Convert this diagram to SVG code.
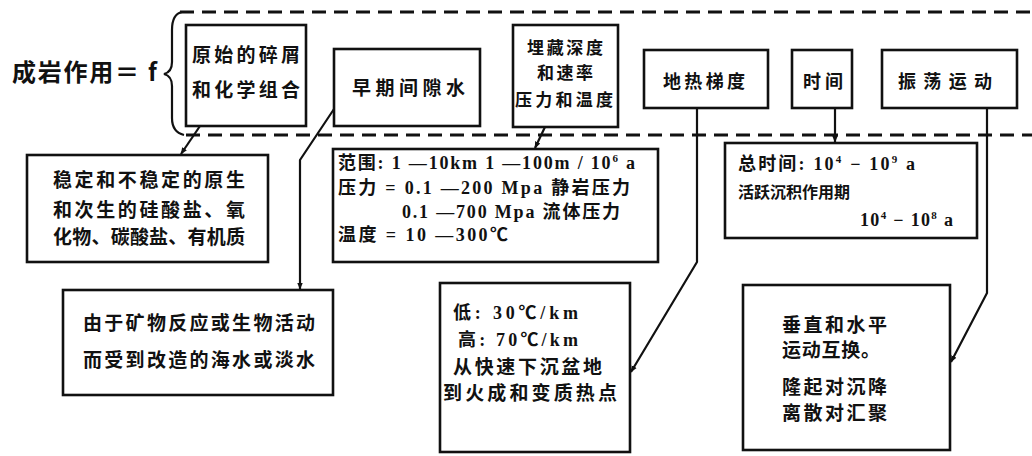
<svg xmlns="http://www.w3.org/2000/svg" width="1032" height="456" viewBox="0 0 1032 456">
<style>
.box{fill:#fff;stroke:#111;stroke-width:2.6}
.dash{fill:none;stroke:#111;stroke-width:3;stroke-dasharray:14 8}
.ln{fill:none;stroke:#111;stroke-width:2.2}
.t{font-family:"Noto Sans CJK SC","Noto Sans",sans-serif;font-weight:bold;fill:#111}
.s{font-family:"Liberation Serif","Noto Sans CJK SC",serif;font-weight:bold;fill:#111;font-size:18px}
</style>
<defs>
<marker id="ah" viewBox="0 0 10 10" refX="9" refY="5" markerWidth="7" markerHeight="7" orient="auto" markerUnits="userSpaceOnUse">
<path d="M0,1 L10,5 L0,9 z" fill="#111"/>
</marker>
</defs>
<rect width="1032" height="456" fill="#fff"/>
<g id="title">
<text class="t" x="12" y="81" font-size="24" textLength="145" lengthAdjust="spacing">成岩作用＝ f</text>
<path class="ln" d="M182,12 Q172,14 172,30 L172,62 Q172,72 164,74 Q172,76 172,86 L172,118 Q172,132 184,135"/>
</g>
<g id="dashes">
<line class="dash" x1="180" y1="12" x2="1032" y2="12"/>
<line class="dash" x1="186" y1="135" x2="1032" y2="135"/>
</g>
<g id="n1"><rect class="box" x="186" y="25" width="120" height="101"/>
<text class="t" x="192" y="62" font-size="19" textLength="108">原始的碎屑</text>
<text class="t" x="192" y="97" font-size="19" textLength="108">和化学组合</text></g>
<g id="n2"><rect class="box" x="334" y="49" width="146" height="77"/>
<text class="t" x="352" y="95" font-size="19" textLength="113">早期间隙水</text></g>
<g id="n3"><rect class="box" x="513" y="25" width="105" height="102"/>
<text class="t" x="527" y="54" font-size="17" textLength="76">埋藏深度</text>
<text class="t" x="537" y="79" font-size="17" textLength="56">和速率</text>
<text class="t" x="515" y="106" font-size="17" textLength="98">压力和温度</text></g>
<g id="n4"><rect class="box" x="644" y="50" width="124" height="58"/>
<text class="t" x="663" y="88" font-size="18" textLength="82">地热梯度</text></g>
<g id="n5"><rect class="box" x="792" y="50" width="60" height="58"/>
<text class="t" x="803" y="88" font-size="18" textLength="40">时间</text></g>
<g id="n6"><rect class="box" x="882" y="50" width="135" height="58"/>
<text class="t" x="898" y="88" font-size="18" textLength="94">振荡运动</text></g>
<g id="nA"><rect class="box" x="27" y="155" width="241" height="107"/>
<text class="t" x="53" y="187" font-size="19" textLength="192">稳定和不稳定的原生</text>
<text class="t" x="53" y="217" font-size="19" textLength="192">和次生的硅酸盐、氧</text>
<text class="t" x="53" y="244" font-size="19" textLength="192">化物、碳酸盐、有机质</text></g>
<g id="nB"><rect class="box" x="333" y="149" width="325" height="113"/>
<text class="s" x="338" y="169" textLength="297">范围: 1 —10km  1 —100m / 10<tspan font-size="11" dy="-7">6</tspan><tspan dy="7"> a</tspan></text>
<text class="s" x="338" y="194" textLength="292">压力 = 0.1 —200 Mpa 静岩压力</text>
<text class="s" x="402" y="218" textLength="218">0.1 —700 Mpa 流体压力</text>
<text class="s" x="338" y="241" textLength="170">温度 = 10  —300℃</text></g>
<g id="nC"><rect class="box" x="725" y="143" width="252" height="95"/>
<text class="s" x="738" y="170" textLength="177">总时间:  10<tspan font-size="11" dy="-7">4</tspan><tspan dy="7"> − 10</tspan><tspan font-size="11" dy="-7">9</tspan><tspan dy="7"> a</tspan></text>
<text class="t" x="738" y="198" font-size="16">活跃沉积作用期</text>
<text class="s" x="860" y="226" textLength="93">10<tspan font-size="11" dy="-7">4</tspan><tspan dy="7"> − 10</tspan><tspan font-size="11" dy="-7">8</tspan><tspan dy="7"> a</tspan></text></g>
<g id="nD"><rect class="box" x="63" y="290" width="270" height="105"/>
<text class="t" x="83" y="330" font-size="19" textLength="232">由于矿物反应或生物活动</text>
<text class="t" x="83" y="367" font-size="19" textLength="232">而受到改造的海水或淡水</text></g>
<g id="nE"><rect class="box" x="440" y="283" width="190" height="169"/>
<text class="s" x="453" y="319" font-size="19" textLength="125">低:  30℃/km</text>
<text class="s" x="458" y="346" font-size="19" textLength="120">高:  70℃/km</text>
<text class="t" x="453" y="374" font-size="19" textLength="149">从快速下沉盆地</text>
<text class="t" x="443" y="400" font-size="19" textLength="174">到火成和变质热点</text></g>
<g id="nF"><rect class="box" x="743" y="285" width="207" height="165"/>
<text class="t" x="782" y="332" font-size="19" textLength="105">垂直和水平</text>
<text class="t" x="782" y="357" font-size="19" textLength="98">运动互换。</text>
<text class="t" x="782" y="394" font-size="19" textLength="105">隆起对沉降</text>
<text class="t" x="782" y="420" font-size="19" textLength="105">离散对汇聚</text></g>
<g id="connectors">
<line class="ln" x1="200" y1="126" x2="181" y2="154" marker-end="url(#ah)"/>
<polyline class="ln" points="334,109 300,160 300,289" marker-end="url(#ah)"/>
<line class="ln" x1="545" y1="127" x2="535" y2="148" marker-end="url(#ah)"/>
<polyline class="ln" points="697,108 697,262 631,372" marker-end="url(#ah)"/>
<line class="ln" x1="835" y1="108" x2="835" y2="142" marker-end="url(#ah)"/>
<polyline class="ln" points="987,108 987,293 951,362" marker-end="url(#ah)"/>
</g>
</svg>
